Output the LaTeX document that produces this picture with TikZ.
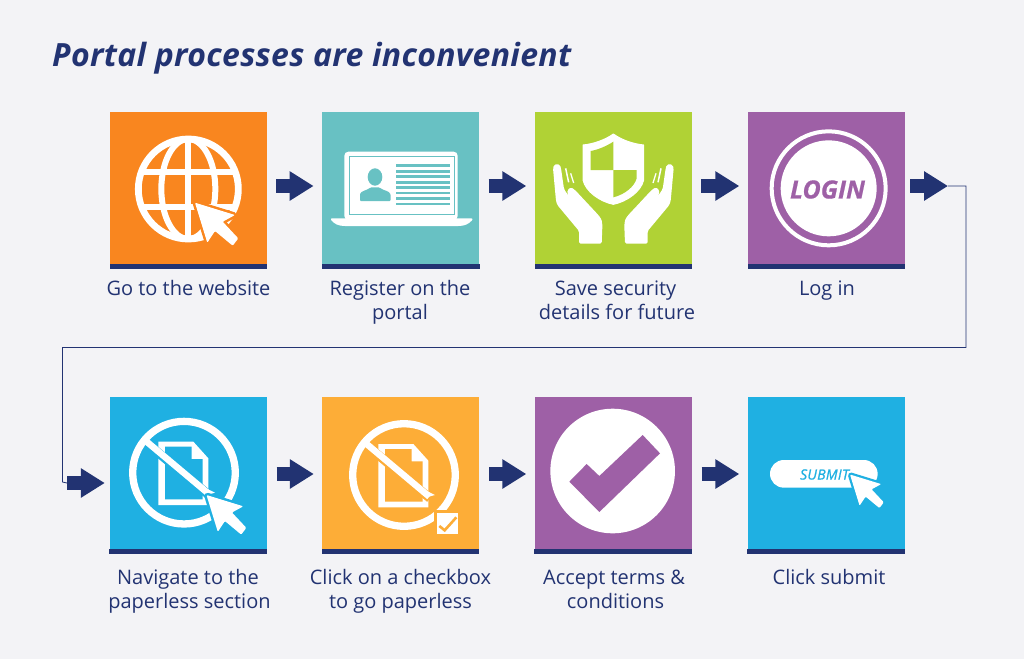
\documentclass[tikz,border=0pt]{standalone}
\usepackage{fontspec}
\setmainfont{Open Sans}
\usetikzlibrary{arrows.meta,calc}
\definecolor{navy}{HTML}{223372}
\definecolor{bgc}{HTML}{F3F3F6}
\definecolor{orangeT}{HTML}{F9861F}
\definecolor{tealT}{HTML}{68C1C3}
\definecolor{greenT}{HTML}{B0D235}
\definecolor{purpleT}{HTML}{9E60A6}
\definecolor{blueT}{HTML}{1FB0E2}
\definecolor{amberT}{HTML}{FDAD37}
\tikzset{
  tile/.style={rectangle,inner sep=0pt,minimum size=157pt,fill=#1},
  caption/.style={align=center,text=navy,inner sep=0pt,font=\fontsize{20}{24}\selectfont},
  flow/.style={draw=navy,line width=13.5pt,-{Triangle[length=24pt,width=28pt,sep=0pt]}},
  thin link/.style={draw=navy,line width=0.8pt},
  zoomA/.style={shift={(100,100)},x=0.33333pt,y=-0.33333pt},
  zoomB/.style={shift={(520,100)},x=0.33333pt,y=-0.33333pt},
  zoomC/.style={shift={(50,390)},x=0.33333pt,y=-0.33333pt},
  zoomD/.style={shift={(500,390)},x=0.33333pt,y=-0.33333pt},
  zoomE/.style={shift={(545,125)},x=0.33333pt,y=-0.33333pt},
}
% cursor: tip x, tip y, scale, halo colour, halo width
\newcommand{\mycursor}[5]{%
  \begin{scope}[shift={(#1,#2)},x=#3pt,y=-#3pt]
    \path[fill=white,rounded corners=1pt,preaction={draw=#4,line width=#5,line join=round}]
      (0,0)--(40,12.3)--(27.7,19)--(43.3,35.7)--(37.7,43)--(20,28.3)--(12.3,40)--cycle;
  \end{scope}}
% prohibited document, in zoom-3 coordinates
\newcommand{\nopaper}[3]{%
  \begin{scope}[zoomC,shift={(#1,#2)}]
    \draw[white,line width=7.3pt] (402,248) circle[radius=51.3pt];
    \fill[white] (325,155)--(430,155)--(475,205)--(475,345)--(325,345)--cycle;
    \fill[#3] (345,170)--(425,170)--(425,207)--(458,207)--(458,328)--(345,328)--cycle;
    \draw[#3,line width=9pt] (315,180)--(480,318);
    \draw[white,line width=6.5pt] (290,155)--(478,313);
    \fill[white] (462,292)--(495,308)--(470,315)--cycle;
  \end{scope}}
\begin{document}
\begin{tikzpicture}[x=1pt,y=-1pt]
\useasboundingbox (0,0) rectangle (1024,667);
\fill[white] (0,0) rectangle (1024,667);
\fill[bgc] (0,0) rectangle (1024,659);
\node[anchor=west,inner sep=0pt,text=navy,font=\fontsize{32}{36}\selectfont\bfseries\itshape\addfontfeature{LetterSpace=1}] (title) at (52,58) {Portal processes are inconvenient};
% tiles
\node[tile=orangeT] (t1) at (188.5,190.5) {};
\node[tile=tealT]   (t2) at (400.8,190.5) {};
\node[tile=greenT]  (t3) at (613.5,190.5) {};
\node[tile=purpleT] (t4) at (826.5,190.5) {};
\node[tile=blueT]   (t5) at (188,475.5) {};
\node[tile=amberT]  (t6) at (400.5,475.5) {};
\node[tile=purpleT] (t7) at (613,475.5) {};
\node[tile=blueT]   (t8) at (826,475.5) {};
\foreach \t in {t1,t2,t3,t4,t5,t6,t7,t8}
  \fill[navy] ([yshift=5.5pt]\t.south west) rectangle (\t.south east);
% captions
\node[caption] (c1) at (188.5,288) {Go to the website};
\node[caption] (c2) at (400,302) {Register on the\\portal};
\node[caption] (c3) at (617,300) {Save security\hspace*{3pt}\\details for future};
\node[caption] (c4) at (827,291) {Log in};
\node[caption] (c5) at (189.5,591) {Navigate to the\hspace*{3pt}\\paperless section};
\node[caption] (c6) at (400.5,591) {Click on a checkbox\\to go paperless};
\node[caption] (c7) at (615.5,589) {Accept terms \&\hspace*{3pt}\\conditions};
\node[caption] (c8) at (829,577) {Click submit};
% connectors
\coordinate (a4tip) at (948,186);
\coordinate (a5tail) at (67,483);
\draw[thin link] (a4tip) -- (966,186) -- (966,347.5) -- (62.5,347.5) -- (62.5,482) -- (a5tail);
\foreach \a/\b in {t1/t2,t2/t3,t3/t4}
  \draw[flow,shorten <=9pt,shorten >=8.5pt] ([yshift=4.5pt]\a.east) -- ([yshift=4.5pt]\b.west);
\draw[flow,shorten <=5pt] ([yshift=4.5pt]t4.east) -- (a4tip);
\draw[flow,shorten >=4.5pt] (a5tail) -- (a5tail -| t5.west);
\foreach \a/\b in {t5/t6,t6/t7,t7/t8}
  \draw[flow,shorten <=10pt,shorten >=8pt] ([yshift=1.5pt]\a.east) -- ([yshift=1.5pt]\b.west);
% globe
\begin{scope}[zoomA]
  \draw[white,line width=6.8pt] (265,267) circle[radius=50pt];
  \begin{scope}
    \clip (265,267) circle[radius=50pt];
    \draw[white,line width=6.3pt] (265,100)--(265,430);
    \draw[white,line width=6.3pt] (100,215)--(430,215);
    \draw[white,line width=6.3pt] (100,321)--(430,321);
    \draw[white,line width=6pt] (265,267) ellipse[x radius=27pt,y radius=50pt];
  \end{scope}
\end{scope}
\mycursor{195}{202.7}{1}{orangeT}{5pt}
% laptop
\begin{scope}[zoomA]
  \fill[white,rounded corners=4pt] (733,155) rectangle (1073,360);
  \fill[white] (693,360) .. controls (692,356) and (693,355) .. (697,355)--(1114,355) .. controls (1118,355) and (1119,358) .. (1115,362) .. controls (1105,372) and (1095,378) .. (1075,378)--(735,378) .. controls (715,378) and (703,372) .. cycle;
  \draw[tealT,line width=0.7pt] (748,169) rectangle (1063,343);
  \fill[tealT] (825,231) ellipse[x radius=7.3pt,y radius=8.7pt];
  \fill[tealT,rounded corners=1pt] (780,303)--(780,285)..controls (782,272) and (800,272)..(812,262)--(838,262)..controls (850,272) and (868,272)..(872,285)--(872,303)--cycle;
  \foreach \y in {197,214,230,247,263,279,296,312}
    \fill[tealT] (889,\y-4) rectangle (1050,\y+4);
\end{scope}
% shield and hands
\begin{scope}[zoomE]
  \fill[white,draw=white,line width=1pt,line join=round] (205,27) .. controls (180,45) and (145,57) .. (114,60) -- (114,165)
     .. controls (122,200) and (165,230) .. (205,238) .. controls (245,230) and (288,200) .. (296,165) -- (296,60)
     .. controls (265,57) and (230,45) .. cycle;
  \fill[greenT] (205,50) .. controls (185,63) and (160,74) .. (137,78) -- (137,135) -- (205,135) -- cycle;
  \fill[greenT] (205,135) -- (275,135) -- (275,160) .. controls (268,185) and (240,208) .. (205,217) -- cycle;
  \foreach \m in {0,1} {
  \begin{scope}[shift={(\m*410,0)},xscale={1-2*\m}]
    \fill[white,rounded corners=1.5pt] (24,130) -- (27,120) -- (36,117) -- (45,120) -- (48,130) -- (57,192) -- (103,262) -- (68,208) -- (67,195) -- (78,187) -- (90,195) -- (160,270)
      .. controls (170,283) and (172,290) .. (172,305) -- (170,356) -- (102,356) -- (102,318) -- (37,240) -- (33,228) -- cycle;
    \draw[white,line width=1.5pt] (62,130) -- (71,172);
    \draw[white,line width=1.3pt] (77,145) -- (86,174);
  \end{scope}}
\end{scope}
% login
\begin{scope}[zoomB]
  \draw[white,line width=4pt] (926,265) circle[radius=57pt];
  \fill[white] (926,265) circle[radius=48pt];
\end{scope}
\node[inner sep=0pt,text=purpleT,font=\fontsize{25}{30}\selectfont\bfseries\itshape\addfontfeature{FakeBold=0.6}] (login) at (827.5,189.5) {LOGIN};
% no paper
\nopaper{0}{0}{blueT}
\mycursor{206.5}{495}{0.92}{blueT}{5pt}
\nopaper{660}{7}{amberT}
\begin{scope}[zoomC]
  \fill[white,draw=amberT,line width=3pt] (1156,363) rectangle (1229,436);
  \draw[amberT,line width=2.6pt] (1168,408)--(1184,421)--(1219,382);
\end{scope}
% accept
\begin{scope}[zoomD]
  \fill[white] (338,243) circle[radius=62.3pt];
  \fill[purpleT] (208,275)--(260,222)--(298,258)--(428,135)--(480,190)--(298,366)--cycle;
\end{scope}
% submit
\begin{scope}[zoomD]
  \fill[white,rounded corners=13.8pt] (810,210) rectangle (1133,293);
\end{scope}
\node[inner sep=0pt,text=blueT,font=\fontsize{14}{16}\selectfont\itshape\addfontfeature{FakeBold=1,LetterSpace=2}] (submit) at (824.5,474.5) {SUBMIT};
\mycursor{850}{474.5}{0.78}{blueT}{4.5pt}
\end{tikzpicture}
\end{document}
